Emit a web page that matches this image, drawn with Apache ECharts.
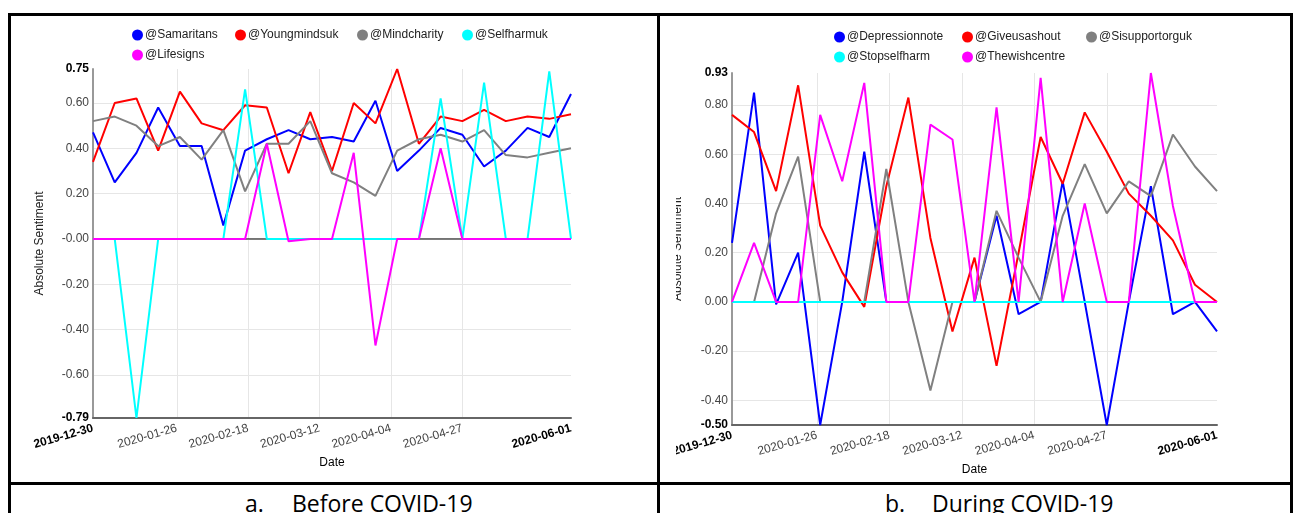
<!DOCTYPE html>
<html>
<head>
<meta charset="utf-8">
<script src="https://cdn.jsdelivr.net/npm/echarts@6/dist/echarts.min.js"></script>
<style>
  html, body { margin: 0; padding: 0; background: #fff; }
  body { width: 1294px; height: 513px; position: relative; overflow: hidden; }
  .ln { position: absolute; background: #000; }
  .clip { position: absolute; overflow: hidden; }
  .chart { position: absolute; width: 1294px; height: 513px; }
  .cap { position: absolute; font-family: "Open Sans", sans-serif; font-size: 23px; line-height: 23px; color: #000; white-space: nowrap; }
</style>
</head>
<body>
<div class="ln" style="left:8px;top:13px;width:1285px;height:3px;"></div>
<div class="ln" style="left:8px;top:13px;width:3px;height:500px;"></div>
<div class="ln" style="left:657px;top:13px;width:3px;height:500px;"></div>
<div class="ln" style="left:1290px;top:13px;width:3px;height:500px;"></div>
<div class="ln" style="left:8px;top:482px;width:1285px;height:3px;"></div>

<div class="clip" style="left:11px;top:16px;width:646px;height:466px;">
  <div id="chartA" class="chart" style="left:-11px;top:-16px;"></div>
</div>
<div class="clip" style="left:676px;top:16px;width:614px;height:466px;">
  <div id="chartB" class="chart" style="left:-676px;top:-16px;"></div>
</div>

<div class="cap" style="left:245px;top:492px;">a.</div>
<div class="cap" style="left:292px;top:492px;">Before COVID-19</div>
<div class="cap" style="left:885px;top:492px;">b.</div>
<div class="cap" style="left:932px;top:492px;">During COVID-19</div>

<script>
// ---------- data ----------
const dates = ['2019-12-30','2020-01-06','2020-01-13','2020-01-20','2020-01-27','2020-02-03','2020-02-10','2020-02-17',
  '2020-02-24','2020-03-02','2020-03-09','2020-03-16','2020-03-23','2020-03-30','2020-04-06','2020-04-13',
  '2020-04-20','2020-04-27','2020-05-04','2020-05-11','2020-05-18','2020-05-25','2020-06-01'];

const xLabelDates = ['2019-12-30','2020-01-26','2020-02-18','2020-03-12','2020-04-04','2020-04-27','2020-06-01'];
const xGridDates = ['2020-01-26','2020-02-18','2020-03-12','2020-04-04','2020-04-27'];

// Panel a: Before COVID-19
const namesA = ['@Samaritans','@Youngmindsuk','@Mindcharity','@Selfharmuk','@Lifesigns'];
const samaritans   = [0.47,0.25,0.38,0.58,0.41,0.41,0.06,0.39,0.44,0.48,0.44,0.45,0.43,0.61,0.30,0.39,0.49,0.46,0.32,0.39,0.49,0.45,0.64];
const youngmindsuk = [0.34,0.60,0.62,0.39,0.65,0.51,0.48,0.59,0.58,0.29,0.56,0.30,0.60,0.51,0.75,0.42,0.54,0.52,0.57,0.52,0.54,0.53,0.55];
const mindcharity  = [0.52,0.54,0.50,0.41,0.45,0.35,0.48,0.21,0.42,0.42,0.52,0.29,0.25,0.19,0.39,0.44,0.46,0.43,0.48,0.37,0.36,0.38,0.40];
const selfharmuk   = [0,0,-0.79,0,0,0,0,0.66,0,0,0,0,0,0,0,0,0.62,0,0.69,0,0,0.74,0];
const lifesigns    = [0,0,0,0,0,0,0,0,0.42,-0.01,0,0,0.38,-0.47,0,0,0.40,0,0,0,0,0,0];
const yLabelValuesA = [-0.79,-0.60,-0.40,-0.20,0,0.20,0.40,0.60,0.75];
const yLabelTextA   = ['-0.79','-0.60','-0.40','-0.20','-0.00','0.20','0.40','0.60','0.75'];
const yGridA        = [-0.60,-0.40,-0.20,0,0.20,0.40,0.60];

// Panel b: During COVID-19
const namesB = ['@Depressionnote','@Giveusashout','@Sisupportorguk','@Stopselfharm','@Thewishcentre'];
const depressionnote = [0.24,0.85,-0.01,0.20,-0.50,0,0.61,0,0,0,0,0,0.35,-0.05,0,0.49,0,-0.50,0,0.47,-0.05,0,-0.12];
const giveusashout   = [0.76,0.69,0.45,0.88,0.31,0.12,-0.02,0.47,0.83,0.26,-0.12,0.18,-0.26,0.20,0.67,0.48,0.77,0.61,0.44,0.35,0.25,0.07,0];
const sisupportorguk = [0,0,0.36,0.59,0,0,0,0.54,0,-0.36,0,0,0.37,0.18,0,0.35,0.56,0.36,0.49,0.43,0.68,0.55,0.45];
const stopselfharm   = [0,0,0,0,0,0,0,0,0,0,0,0,0,0,0,0,0,0,0,0,0,0,0];
const thewishcentre  = [0,0.24,0,0,0.76,0.49,0.89,0,0,0.72,0.66,0,0.79,0,0.91,0,0.40,0,0,0.93,0.39,0,0];
const yLabelValuesB = [-0.50,-0.40,-0.20,0,0.20,0.40,0.60,0.80,0.93];
const yLabelTextB   = ['-0.50','-0.40','-0.20','0.00','0.20','0.40','0.60','0.80','0.93'];
const yGridB        = [-0.40,-0.20,0,0.20,0.40,0.60,0.80];

const colors = ['#0000ff','#ff0000','#808080','#00ffff','#ff00ff'];

// ---------- helpers ----------
const ts = d => Date.UTC(+d.slice(0,4), +d.slice(5,7)-1, +d.slice(8,10));
const fmtDate = v => new Date(v).toISOString().slice(0,10);
const FONT = '"Liberation Sans", Arial, sans-serif';

function buildOption(cfg) {
  const xMin = ts(dates[0]), xMax = ts(dates[dates.length-1]);
  const series = [{
    type: 'line', name: '__zero', z: 1, silent: true, symbol: 'none',
    data: [[xMin, 0], [xMax, 0]],
    lineStyle: { color: '#000', width: 1 }, itemStyle: { color: '#000' }
  }];
  cfg.names.forEach((n, k) => {
    series.push({
      type: 'line', name: n, z: 2, symbol: 'none', smooth: false,
      data: cfg.values[k].map((v, i) => [ts(dates[i]), v]),
      lineStyle: { color: colors[k], width: 2 },
      itemStyle: { color: colors[k] }
    });
  });
  const legends = cfg.names.map((n, k) => ({
    data: [n], left: cfg.legendPos[k][0], top: cfg.legendPos[k][1],
    icon: 'circle', itemWidth: 11, itemHeight: 11, padding: 0,
    textStyle: { fontFamily: FONT, fontSize: 12, color: '#222', padding: [0,0,0,-3] }
  }));
  const yVals = cfg.yLabelValues, yTxt = cfg.yLabelText;
  return {
    animation: false,
    textStyle: { fontFamily: FONT },
    legend: legends,
    grid: { left: cfg.grid[0], top: cfg.grid[1], width: cfg.grid[2], height: cfg.grid[3], containLabel: false },
    xAxis: {
      type: 'value', min: xMin, max: xMax,
      name: 'Date', nameLocation: 'middle', nameGap: 36,
      nameTextStyle: { fontFamily: FONT, fontSize: 12, color: '#000' },
      axisLine: { show: true, onZero: false, lineStyle: { color: '#666', width: 2 } },
      axisTick: { show: false, customValues: xGridDates.map(ts) },
      splitLine: { show: true, lineStyle: { color: '#e6e6e6', width: 1 } },
      axisLabel: {
        customValues: xLabelDates.map(ts),
        rotate: 16, margin: 10, fontFamily: FONT, fontSize: 12, color: '#444',
        formatter: v => {
          const s = fmtDate(v);
          return (s === xLabelDates[0] || s === xLabelDates[xLabelDates.length-1]) ? '{b|' + s + '}' : s;
        },
        rich: { b: { fontWeight: 'bold', color: '#000', fontFamily: FONT, fontSize: 12 } }
      }
    },
    yAxis: {
      type: 'value', min: yVals[0], max: yVals[yVals.length-1],
      name: 'Absolute Sentiment', nameLocation: 'middle', nameGap: cfg.yNameGap,
      nameTextStyle: { fontFamily: FONT, fontSize: 12, color: '#222' },
      axisLine: { show: true, lineStyle: { color: '#999', width: 2 } },
      axisTick: { show: false, customValues: cfg.yGrid },
      splitLine: { show: true, lineStyle: { color: '#e6e6e6', width: 1 } },
      axisLabel: {
        customValues: yVals, margin: 4, fontFamily: FONT, fontSize: 12, color: '#444',
        formatter: v => {
          let idx = yVals.findIndex(t => Math.abs(t - v) < 1e-6);
          if (idx < 0) return '';
          const s = yTxt[idx];
          return (idx === 0 || idx === yVals.length-1) ? '{b|' + s + '}' : s;
        },
        rich: { b: { fontWeight: 'bold', color: '#000', fontFamily: FONT, fontSize: 12 } }
      }
    },
    series: series
  };
}

const chartA = echarts.init(document.getElementById('chartA'), null, { renderer: 'canvas' });
chartA.setOption(buildOption({
  names: namesA,
  values: [samaritans, youngmindsuk, mindcharity, selfharmuk, lifesigns],
  legendPos: [[132,29],[235,29],[357,29],[462,29],[132,49]],
  grid: [93, 69, 478, 349],
  yLabelValues: yLabelValuesA, yLabelText: yLabelTextA, yGrid: yGridA,
  yNameGap: 47
}));

const chartB = echarts.init(document.getElementById('chartB'), null, { renderer: 'canvas' });
chartB.setOption(buildOption({
  names: namesB,
  values: [depressionnote, giveusashout, sisupportorguk, stopselfharm, thewishcentre],
  legendPos: [[834,31],[962,31],[1086,31],[834,51],[962,51]],
  grid: [732, 73, 485, 352],
  yLabelValues: yLabelValuesB, yLabelText: yLabelTextB, yGrid: yGridB,
  yNameGap: 48
}));
</script>
</body>
</html>
